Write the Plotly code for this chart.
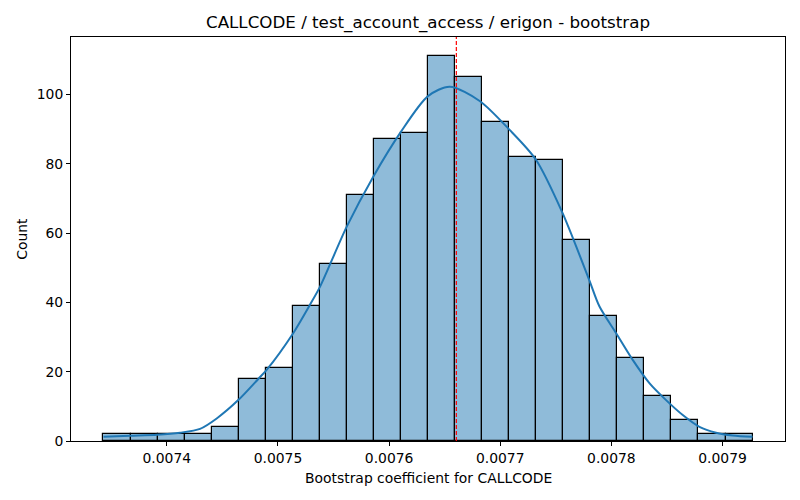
import numpy as np
import plotly.graph_objects as go

# histogram of bootstrap coefficients (24 equal bins)
bin_lo = 0.007343
bin_hi = 0.007927
counts = [2, 2, 2, 2, 4, 18, 21, 39, 51, 71, 87, 89,
          111, 105, 92, 82, 81, 58, 36, 24, 13, 6, 2, 2]

# kde curve (scaled to counts)
kde_x = [0.007343, 0.007367, 0.0073913, 0.007412, 0.0074299,
         0.0074449, 0.0074643, 0.0074823, 0.0074898, 0.0075137, 0.0075288,
         0.007538, 0.007562, 0.007586, 0.00761, 0.007635, 0.0076545,
         0.0076815, 0.007708, 0.007732, 0.007756, 0.00778, 0.0077893,
         0.0078043, 0.0078192, 0.0078342, 0.0078492, 0.0078642, 0.0078792,
         0.0078942, 0.0079091, 0.007927]
kde_y = [1.2, 1.5, 1.8, 2.4, 3.5,
         6.5, 11.8, 17.9, 20.5, 31.1, 39.3,
         44.6, 61.9, 76.4, 88.9, 99.5, 102.2,
         98.1, 89.9, 81.2, 65.8, 46.5, 38.8,
         31.1, 23.4, 16.7, 11.8, 7.5, 4.1,
         2.4, 1.6, 1.2]

point_estimate = 0.0076605

x_ticks = [0.0074, 0.0075, 0.0076, 0.0077, 0.0078, 0.0079]
y_ticks = [0, 20, 40, 60, 80, 100]

edges = np.linspace(bin_lo, bin_hi, len(counts) + 1)
centers = (edges[:-1] + edges[1:]) / 2
width = edges[1] - edges[0]

blue = "#1f77b4"
font = "DejaVu Sans"

fig = go.Figure()
fig.add_trace(go.Bar(
    x=centers, y=counts, width=width,
    marker=dict(color="rgba(31,119,180,0.5)", line=dict(color="black", width=1.2)),
    hoverinfo="x+y",
))
fig.add_trace(go.Scatter(
    x=kde_x, y=kde_y, mode="lines",
    line=dict(color=blue, width=2, shape="spline", smoothing=0.8),
))
fig.add_vline(x=point_estimate, line=dict(color="red", width=1.2, dash="4px,2px"))

span = bin_hi - bin_lo
ymax = max(counts) * 1.05
# page body has an 8px margin, so the figure is a bit smaller than the window
fig.update_layout(
    width=792, height=492,
    margin=dict(l=63, r=15, t=29, b=59),
    plot_bgcolor="white", paper_bgcolor="white",
    showlegend=False, bargap=0,
    font=dict(family=font, size=13.9, color="black"),
    title=dict(text="CALLCODE / test_account_access / erigon - bootstrap",
               xref="paper", x=0.5, xanchor="center",
               yref="container", y=0.9715, yanchor="middle",
               font=dict(size=16.7, color="black")),
)
# axis titles as annotations so the plot area stays fixed
fig.add_annotation(text="Bootstrap coefficient for CALLCODE", xref="paper", yref="paper",
                   x=0.5, y=-0.092, xanchor="center", yanchor="middle",
                   showarrow=False, font=dict(size=13.9))
fig.add_annotation(text="Count", xref="paper", yref="paper",
                   x=-0.069, y=0.5, xanchor="center", yanchor="middle",
                   textangle=-90, showarrow=False, font=dict(size=13.9))
fig.update_xaxes(
    range=[bin_lo - 0.05 * span, bin_hi + 0.05 * span],
    tickvals=x_ticks, ticktext=[f"{v:.4f}" for v in x_ticks],
    ticks="outside", ticklen=4, tickcolor="black", tickfont=dict(size=13.9),
    showline=True, linecolor="black", linewidth=1, mirror=True,
    showgrid=False, zeroline=False, automargin=False,
)
fig.update_yaxes(
    range=[0, ymax],
    tickvals=y_ticks,
    ticks="outside", ticklen=4, tickcolor="black", tickfont=dict(size=13.9),
    showline=True, linecolor="black", linewidth=1, mirror=True,
    showgrid=False, zeroline=False, automargin=False,
)

fig.write_html("out.html")
